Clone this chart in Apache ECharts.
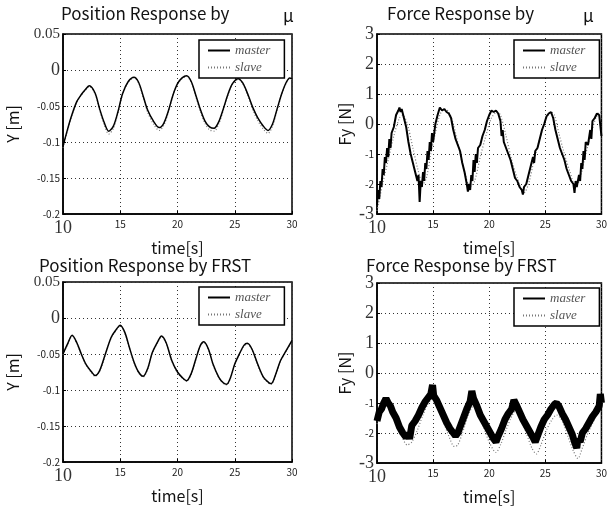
<!DOCTYPE html>
<html><head><meta charset="utf-8">
<script src="https://cdn.jsdelivr.net/npm/echarts@6/dist/echarts.min.js"></script>
<style>html,body{margin:0;padding:0;background:#fff}#c{width:610px;height:508px}</style>
</head><body><div id="c"></div>
<script>
// ---- Data: Position Response by mu (top-left)
var posMuT = [10,10.3,10.7,11.2,11.6,11.9,12.3,12.8,13.2,13.6,14.0,14.4,14.8,15.2,15.7,16.2,16.6,17.0,17.4,17.9,18.4,18.8,19.2,19.6,20.0,20.4,20.8,21.2,21.6,22.0,22.4,22.8,23.2,23.6,24.0,24.4,24.8,25.3,25.7,26.2,26.6,27.0,27.5,27.9,28.3,28.7,29.1,29.5,29.8,30];
var posMuMaster = [-0.106,-0.088,-0.066,-0.044,-0.034,-0.028,-0.022,-0.032,-0.054,-0.073,-0.085,-0.078,-0.058,-0.033,-0.016,-0.010,-0.017,-0.036,-0.056,-0.071,-0.080,-0.074,-0.057,-0.035,-0.019,-0.011,-0.008,-0.016,-0.035,-0.055,-0.071,-0.079,-0.081,-0.072,-0.054,-0.034,-0.019,-0.012,-0.018,-0.036,-0.053,-0.066,-0.078,-0.084,-0.075,-0.054,-0.033,-0.017,-0.011,-0.012];
var posMuSlave  = [-0.108,-0.090,-0.067,-0.045,-0.035,-0.029,-0.023,-0.033,-0.056,-0.076,-0.089,-0.081,-0.060,-0.034,-0.017,-0.011,-0.018,-0.038,-0.059,-0.075,-0.084,-0.077,-0.059,-0.036,-0.020,-0.012,-0.009,-0.017,-0.037,-0.058,-0.074,-0.083,-0.085,-0.075,-0.056,-0.035,-0.020,-0.013,-0.019,-0.038,-0.056,-0.070,-0.082,-0.088,-0.078,-0.056,-0.034,-0.018,-0.012,-0.013];

// ---- Data: Force Response by mu (top-right)
var frcMuMasterT = [10.0,10.1,10.2,10.3,10.4,10.5,10.6,10.7,10.8,10.9,11.0,11.1,11.2,11.3,11.5,11.7,11.9,12.0,12.1,12.2,12.4,12.6,12.8,13.0,13.2,13.4,13.6,13.7,13.8,13.9,14.0,14.1,14.2,14.3,14.4,14.5,14.6,14.7,14.8,14.9,15.0,15.2,15.4,15.6,15.8,16.0,16.2,16.4,16.6,16.8,17.0,17.2,17.4,17.6,17.8,18.0,18.1,18.2,18.3,18.4,18.5,18.6,18.7,18.8,18.9,19.0,19.2,19.4,19.6,19.8,20.0,20.2,20.4,20.6,20.8,21.0,21.1,21.2,21.3,21.5,21.7,21.9,22.1,22.3,22.5,22.7,22.9,23.0,23.1,23.3,23.5,23.7,23.9,24.0,24.1,24.3,24.5,24.7,24.9,25.1,25.3,25.5,25.7,25.9,26.1,26.3,26.5,26.7,26.9,27.1,27.3,27.5,27.6,27.7,27.8,28.0,28.1,28.2,28.3,28.4,28.5,28.6,28.8,29.0,29.1,29.2,29.4,29.6,29.8,29.9,30.0];
var frcMuMaster = [-2.7,-2.2,-2.5,-1.9,-2.1,-1.5,-1.7,-1.1,-1.3,-0.8,-1.1,-0.5,-0.8,-0.3,-0.1,0.3,0.45,0.55,0.4,0.5,0.2,-0.1,-0.6,-1.0,-1.3,-1.6,-1.9,-1.7,-2.6,-1.9,-2.1,-1.6,-1.9,-1.3,-1.5,-0.9,-1.2,-0.6,-0.9,-0.3,-0.6,0.0,0.3,0.55,0.45,0.5,0.4,0.35,0.2,-0.2,-0.5,-0.7,-0.9,-1.3,-1.6,-2.0,-2.25,-2.0,-2.2,-1.7,-1.9,-1.2,-1.6,-1.0,-1.3,-0.8,-0.7,-0.4,-0.2,0.1,0.3,0.45,0.4,0.45,0.35,0.1,-0.4,-0.2,-0.6,-0.8,-1.0,-1.2,-1.5,-1.8,-1.9,-2.1,-2.2,-2.35,-2.1,-2.0,-1.7,-1.4,-1.1,-1.3,-0.9,-0.8,-0.5,-0.2,0.0,0.25,0.35,0.4,0.2,-0.2,-0.5,-0.8,-1.0,-1.2,-1.5,-1.7,-1.9,-2.0,-2.3,-1.9,-2.1,-1.7,-1.9,-1.3,-1.5,-0.9,-1.2,-0.6,-0.7,-0.2,-0.5,0.1,0.2,0.35,0.3,0.35,-0.4];
var frcMuSlaveT = [10,10.5,11,11.5,12,12.3,12.7,13.2,13.7,14.1,14.4,14.8,15.2,15.6,16.0,16.4,16.8,17.3,17.8,18.3,18.7,19.2,19.7,20.2,20.7,21.0,21.5,22.0,22.5,23.1,23.5,24.0,24.5,25.0,25.5,25.8,26.2,26.7,27.2,27.7,28.1,28.6,29.1,29.5,29.9,30];
var frcMuSlave = [-2.9,-2.0,-1.2,-0.4,0.2,0.3,0.0,-0.8,-1.6,-2.0,-1.8,-1.0,-0.3,0.3,0.5,0.4,0.0,-0.8,-1.6,-2.1,-1.9,-1.1,-0.4,0.2,0.4,0.3,-0.4,-1.2,-1.8,-2.3,-2.0,-1.2,-0.5,0.1,0.4,0.3,-0.3,-1.0,-1.6,-2.1,-1.8,-1.0,-0.3,0.2,0.4,0.3];

// ---- Data: Position Response by FRST (bottom-left)
var posFrT = [10,10.4,10.8,11.2,11.6,12.0,12.5,12.8,13.2,13.7,14.2,14.6,15.0,15.4,15.8,16.2,16.6,17.0,17.4,17.8,18.3,18.6,19.0,19.5,20.0,20.5,20.8,21.2,21.6,22.0,22.3,22.7,23.1,23.6,24.0,24.3,24.6,25.0,25.4,25.8,26.1,26.5,27.0,27.5,28.0,28.2,28.6,29.0,29.5,30];
var posFrMaster = [-0.050,-0.036,-0.024,-0.034,-0.050,-0.064,-0.075,-0.080,-0.073,-0.050,-0.027,-0.017,-0.010,-0.020,-0.041,-0.061,-0.075,-0.081,-0.070,-0.048,-0.032,-0.025,-0.034,-0.059,-0.075,-0.084,-0.087,-0.077,-0.057,-0.038,-0.033,-0.043,-0.064,-0.082,-0.090,-0.092,-0.084,-0.064,-0.050,-0.038,-0.035,-0.043,-0.064,-0.082,-0.090,-0.091,-0.077,-0.059,-0.045,-0.031];
var posFrSlave  = [-0.051,-0.037,-0.025,-0.035,-0.051,-0.065,-0.076,-0.081,-0.074,-0.051,-0.028,-0.018,-0.011,-0.021,-0.042,-0.062,-0.076,-0.082,-0.071,-0.049,-0.033,-0.026,-0.035,-0.060,-0.076,-0.085,-0.088,-0.078,-0.058,-0.039,-0.034,-0.044,-0.065,-0.083,-0.091,-0.093,-0.085,-0.065,-0.051,-0.039,-0.036,-0.044,-0.065,-0.083,-0.091,-0.092,-0.078,-0.060,-0.046,-0.032];

// ---- Data: Force Response by FRST (bottom-right)
var frcFrMasterT = [10.0,10.2,10.4,10.6,10.8,11.0,11.2,11.4,11.7,12.0,12.3,12.6,12.8,12.9,13.1,13.4,13.7,14.0,14.3,14.6,14.8,14.95,15.05,15.3,15.6,15.9,16.2,16.5,16.8,17.0,17.2,17.4,17.7,18.0,18.3,18.45,18.6,18.9,19.2,19.5,19.8,20.1,20.4,20.6,20.8,21.1,21.4,21.7,22.0,22.2,22.4,22.7,23.0,23.3,23.6,23.9,24.1,24.3,24.6,24.9,25.2,25.5,25.8,26.0,26.2,26.5,26.8,27.1,27.4,27.6,27.8,27.9,28.1,28.3,28.6,28.9,29.2,29.5,29.8,29.9,30.0];
var frcFrMaster = [-1.6,-1.3,-1.2,-1.0,-0.85,-1.0,-1.1,-1.3,-1.5,-1.8,-2.0,-2.15,-2.0,-2.2,-1.75,-1.6,-1.4,-1.15,-0.95,-0.8,-0.7,-0.4,-0.75,-0.9,-1.15,-1.4,-1.65,-1.85,-2.0,-2.1,-2.0,-1.8,-1.5,-1.2,-0.95,-0.6,-0.85,-1.1,-1.4,-1.6,-1.8,-2.0,-2.2,-2.3,-2.1,-1.85,-1.55,-1.35,-1.2,-0.9,-1.05,-1.3,-1.55,-1.75,-1.95,-2.15,-2.3,-2.1,-1.8,-1.55,-1.4,-1.2,-1.05,-1.0,-1.1,-1.35,-1.55,-1.8,-2.05,-2.3,-2.5,-2.2,-2.3,-2.0,-1.85,-1.65,-1.45,-1.3,-1.1,-0.7,-1.0];
var frcFrSlaveT = [10,10.4,10.8,11.2,11.7,12.2,12.7,13.1,13.6,14.1,14.6,15.0,15.4,15.9,16.4,16.9,17.2,17.7,18.2,18.6,19.0,19.5,20.0,20.6,21.0,21.5,22.0,22.4,22.8,23.3,23.8,24.2,24.6,25.1,25.6,26.0,26.5,27.0,27.5,27.9,28.3,28.8,29.3,29.7,30];
var frcFrSlave = [-1.7,-1.2,-0.95,-1.15,-1.6,-2.1,-2.4,-2.3,-1.9,-1.4,-1.0,-0.85,-1.1,-1.6,-2.1,-2.45,-2.4,-1.9,-1.35,-1.1,-1.3,-1.8,-2.3,-2.65,-2.4,-1.9,-1.45,-1.25,-1.5,-2.0,-2.5,-2.7,-2.4,-1.9,-1.55,-1.4,-1.6,-2.1,-2.6,-2.85,-2.5,-2.0,-1.6,-1.2,-1.0];

// ---- Tick / text
var xTicks = [10,15,20,25,30];
var titles = ['Position Response by','Force Response by','Position Response by FRST','Force Response by FRST'];

function zip(t, v){ return t.map(function(x,i){ return [x, v[i]]; }); }

var GOTH = '"Noto Sans CJK JP", "DejaVu Sans", sans-serif';
var SERIF = '"Liberation Serif", "DejaVu Serif", serif';
var grids = [
  {left:63, top:34, width:229, height:180},
  {left:377, top:34, width:229, height:180},
  {left:63, top:282, width:229, height:180},
  {left:377, top:283, width:229, height:180}
];
var rich = {
  s:{fontFamily:SERIF, fontSize:18, color:'#333'},
  s2:{fontFamily:SERIF, fontSize:15, color:'#333'},
  g:{fontFamily:GOTH, fontSize:10, color:'#222'}
};
function xAxis(i){
  return {gridIndex:i, type:'value', min:10, max:30, interval:5,
    name:'time[s]', nameLocation:'middle', nameGap:26,
    nameTextStyle:{fontFamily:GOTH, fontSize:16, color:'#111'},
    axisLine:{show:true, onZero:false, lineStyle:{color:'#000', width:1.5}},
    axisTick:{show:true, inside:true, length:3, lineStyle:{color:'#000'}},
    axisLabel:{margin:5, formatter:function(v){ return v===10 ? '{s|10}' : '{g|'+v+'}'; }, rich:rich},
    splitLine:{show:true, lineStyle:{type:[1,3], color:'#333', width:1}}
  };
}
function yPos(i){
  return {gridIndex:i, type:'value', min:-0.2, max:0.05, interval:0.05,
    name:'Y [m]', nameLocation:'middle', nameGap:42,
    nameTextStyle:{fontFamily:GOTH, fontSize:16, color:'#111'},
    axisLine:{show:true, onZero:false, lineStyle:{color:'#000', width:1.5}},
    axisTick:{show:true, inside:true, length:3, lineStyle:{color:'#000'}},
    axisLabel:{margin:3, formatter:function(v){
      var r = Math.round(v*100)/100;
      if (r===0.05) return '{s2|0.05}';
      if (r===0) return '{s|0}';
      return '{g|'+r+'}';
    }, rich:rich},
    splitLine:{show:true, lineStyle:{type:[1,3], color:'#333', width:1}}
  };
}
function yFrc(i){
  return {gridIndex:i, type:'value', min:-3, max:3, interval:1,
    name:'Fy [N]', nameLocation:'middle', nameGap:24,
    nameTextStyle:{fontFamily:GOTH, fontSize:16, color:'#111'},
    axisLine:{show:true, onZero:false, lineStyle:{color:'#000', width:1.5}},
    axisTick:{show:true, inside:true, length:3, lineStyle:{color:'#000'}},
    axisLabel:{margin:3, formatter:function(v){
      if (v===-1 || v===-2) return '{g|'+v+'}';
      return '{s|'+v+'}';
    }, rich:rich},
    splitLine:{show:true, lineStyle:{type:[1,3], color:'#333', width:1}}
  };
}
function slave(name, i, data){
  return {name:name, type:'line', xAxisIndex:i, yAxisIndex:i, data:data, showSymbol:false, symbol:'none',
    smooth:0.3, itemStyle:{color:'#777'}, lineStyle:{color:'#777', width:1.2, type:[1,2]}, z:2, animation:false};
}
function master(name, i, data, w, smooth){
  return {name:name, type:'line', xAxisIndex:i, yAxisIndex:i, data:data, showSymbol:false, symbol:'none',
    smooth:smooth, itemStyle:{color:'#000'}, lineStyle:{color:'#000', width:w}, z:3, animation:false};
}
var legendPos = [[199,40],[514,40],[199,287],[514,288]];
var legends = legendPos.map(function(p,i){
  return {orient:'vertical', left:p[0], top:p[1], data:['master#'+i,'slave#'+i],
    borderColor:'#000', borderWidth:1.5, padding:[4,14,4,8], itemGap:4, itemWidth:22, itemHeight:10,
    backgroundColor:'#fff', selectedMode:false,
    itemStyle:{opacity:0},
    formatter:function(n){ return n.replace(/#.*/,''); },
    textStyle:{fontFamily:SERIF, fontStyle:'italic', fontSize:13, color:'#555', padding:[0,0,0,0]}};
});
var tStyle = {fontFamily:GOTH, fontSize:17, fontWeight:'normal', color:'#111'};
var option = {
  animation:false,
  backgroundColor:'#fff',
  title:[
    {text:titles[0], left:61, top:5, textStyle:tStyle, padding:0},
    {text:'μ', left:283, top:7, textStyle:tStyle, padding:0},
    {text:titles[1], left:387, top:5, textStyle:tStyle, padding:0},
    {text:'μ', left:583, top:7, textStyle:tStyle, padding:0},
    {text:titles[2], left:39, top:257, textStyle:tStyle, padding:0},
    {text:titles[3], left:366, top:257, textStyle:tStyle, padding:0}
  ],
  grid: grids.map(function(g){ return Object.assign({show:true, borderColor:'#000', borderWidth:1.5, backgroundColor:'#fff', containLabel:false}, g); }),
  legend: legends,
  xAxis:[xAxis(0),xAxis(1),xAxis(2),xAxis(3)],
  yAxis:[yPos(0),yFrc(1),yPos(2),yFrc(3)],
  series:[
    slave('slave#0',0,zip(posMuT,posMuSlave)),
    master('master#0',0,zip(posMuT,posMuMaster),1.5,0.3),
    slave('slave#1',1,zip(frcMuSlaveT,frcMuSlave)),
    master('master#1',1,zip(frcMuMasterT,frcMuMaster),2,false),
    slave('slave#2',2,zip(posFrT,posFrSlave)),
    master('master#2',2,zip(posFrT,posFrMaster),1.5,0.3),
    slave('slave#3',3,zip(frcFrSlaveT,frcFrSlave)),
    master('master#3',3,zip(frcFrMasterT,frcFrMaster),7,false)
  ]
};
var chart = echarts.init(document.getElementById('c'), null, {renderer:'canvas'});
chart.setOption(option);
</script></body></html>
